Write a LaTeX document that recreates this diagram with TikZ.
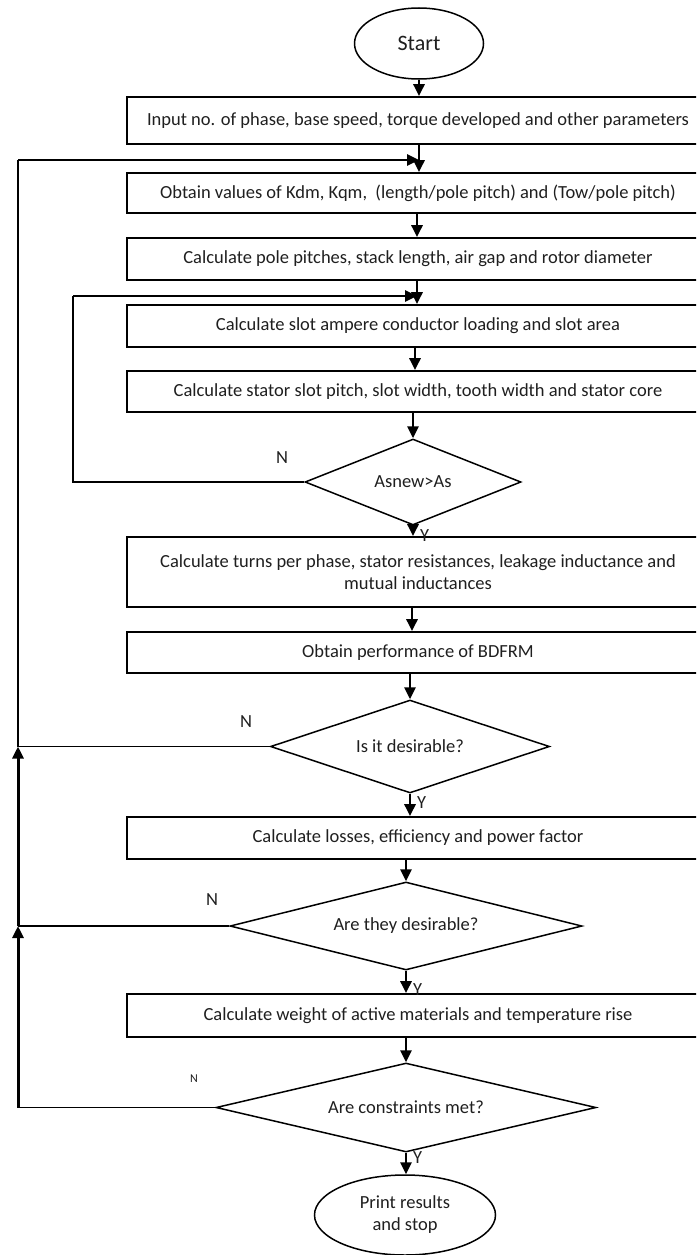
\documentclass[tikz,border=0pt]{standalone}
\usepackage{fontspec}
\setmainfont{Carlito}
\usetikzlibrary{arrows.meta,shapes.geometric}
\begin{document}
\begin{tikzpicture}[x=1pt,y=-1pt,
  txt/.style={font=\fontsize{18.5}{22}\selectfont, text=black!88},
  box/.style={txt, draw, line width=1.7pt, minimum width=582pt, inner sep=0pt, align=center},
  dia/.style={txt, draw, diamond, shape aspect=4, line width=1.5pt, inner sep=0pt},
  ell/.style={txt, draw, ellipse, line width=1.5pt, inner sep=0pt, align=center},
  tip/.style={-{Triangle[length=12pt,width=11pt]}},
  arr/.style={line width=2.8pt, tip},
  lin/.style={line width=1.6pt},
  thk/.style={line width=3pt},
  lbl/.style={txt, inner sep=0pt}]
\useasboundingbox (0,0) rectangle (696,1255);
\clip (0,0) rectangle (696,1255);

% nodes
\node[ell, minimum width=129pt, minimum height=71pt, font=\fontsize{22}{26}\selectfont] (start) at (419,43.5) {Start};
\node[box, minimum height=47pt] (input) at (418,120.5) {Input no. of phase, base speed, torque developed and other parameters};
\node[box, minimum height=40pt] (obtain) at (418,193) {Obtain values of Kdm, Kqm,\ \ (length/pole pitch) and (Tow/pole pitch)};
\node[box, minimum height=42pt] (pole) at (418,259) {Calculate pole pitches, stack length, air gap and rotor diameter};
\node[box, minimum height=42pt] (slot) at (418,326) {Calculate slot ampere conductor loading and slot area};
\node[box, minimum height=41pt] (stator) at (418,391.5) {Calculate stator slot pitch, slot width, tooth width and stator core};
\node[dia, minimum width=216pt, minimum height=86pt] (d1) at (413,482) {Asnew>As};
\node[box, minimum height=70pt] (turns) at (418,572) {Calculate turns per phase, stator resistances, leakage inductance and\\mutual inductances};
\node[box, minimum height=41pt] (perf) at (418,652.5) {Obtain performance of BDFRM};
\node[dia, minimum width=279pt, minimum height=93pt] (d2) at (410,746.5) {Is it desirable?};
\node[box, minimum height=42pt] (losses) at (418,838) {Calculate losses, efficiency and power factor};
\node[dia, minimum width=352pt, minimum height=88pt] (d3) at (406,926) {Are they desirable?};
\node[box, minimum height=43pt] (weight) at (418,1015.5) {Calculate weight of active materials and temperature rise};
\node[dia, minimum width=380pt, minimum height=89pt] (d4) at (406,1107.5) {Are constraints met?};
\node[ell, minimum width=181pt, minimum height=80pt] (print) at (405,1215) {Print results\\and stop};

% labels
\node[lbl] (n1) at (282,458) {N};
\node[lbl] (n2) at (246,722) {N};
\node[lbl] (n3) at (212,900) {N};
\node[lbl, font=\fontsize{12}{14}\selectfont\rmfamily] (n4) at (194,1079) {N};
\node[lbl, anchor=west] (y1) at (420,536) {Y};
\node[lbl, anchor=west] (y2) at (417,803) {Y};
\node[lbl, anchor=west] (y3) at (413,990) {Y};
\node[lbl, anchor=west] (y4) at (413,1158) {Y};

% junctions
\coordinate (j1) at (419,160);
\coordinate (j2) at (417,296);
\coordinate (otop) at (18,160);
\coordinate (o2) at (18,746.5);
\coordinate (o3) at (18,926);
\coordinate (o4) at (18,1107.5);
\coordinate (itop) at (73,296);
\coordinate (i1) at (73,482);

% main flow
\draw[arr] (start.south) -- (start.south |- input.north);
\draw[arr] ([xshift=1pt]input.south) -- ([xshift=1pt]obtain.north);
\draw[arr] ([xshift=-1pt]obtain.south) -- ([xshift=-1pt]pole.north);
\draw[arr] ([xshift=-1pt]pole.south) -- ([xshift=-1pt]slot.north);
\draw[arr] ([xshift=-3pt]slot.south) -- ([xshift=-3pt]stator.north);
\draw[arr] (stator.south -| d1.north) -- (d1.north);
\draw[arr] (d1.south) -- (d1.south |- turns.north);
\draw[arr] ([xshift=-6pt]turns.south) -- ([xshift=-6pt]perf.north);
\draw[arr] (perf.south -| d2.north) -- (d2.north);
\draw[arr] (d2.south) -- (d2.south |- losses.north);
\draw[arr] (losses.south -| d3.north) -- (d3.north);
\draw[arr] (d3.south) -- (d3.south |- weight.north);
\draw[arr] (weight.south -| d4.north) -- (d4.north);
\draw[arr] (d4.south) -- (d4.south |- print.north);

% inner loop
\draw[lin] (d1.west) -- (i1) -- (itop);
\draw[arr] (itop) -- (j2);

% outer loop
\draw[lin] (d4.west) -- (o4);
\draw[thk, tip] (o4) -- (o3);
\draw[lin] (d3.west) -- (o3);
\draw[thk, tip] (o3) -- (o2);
\draw[lin] (d2.west) -- (o2);
\draw[lin] (o2) -- (otop);
\draw[arr] (otop) -- (j1);
\end{tikzpicture}
\end{document}
